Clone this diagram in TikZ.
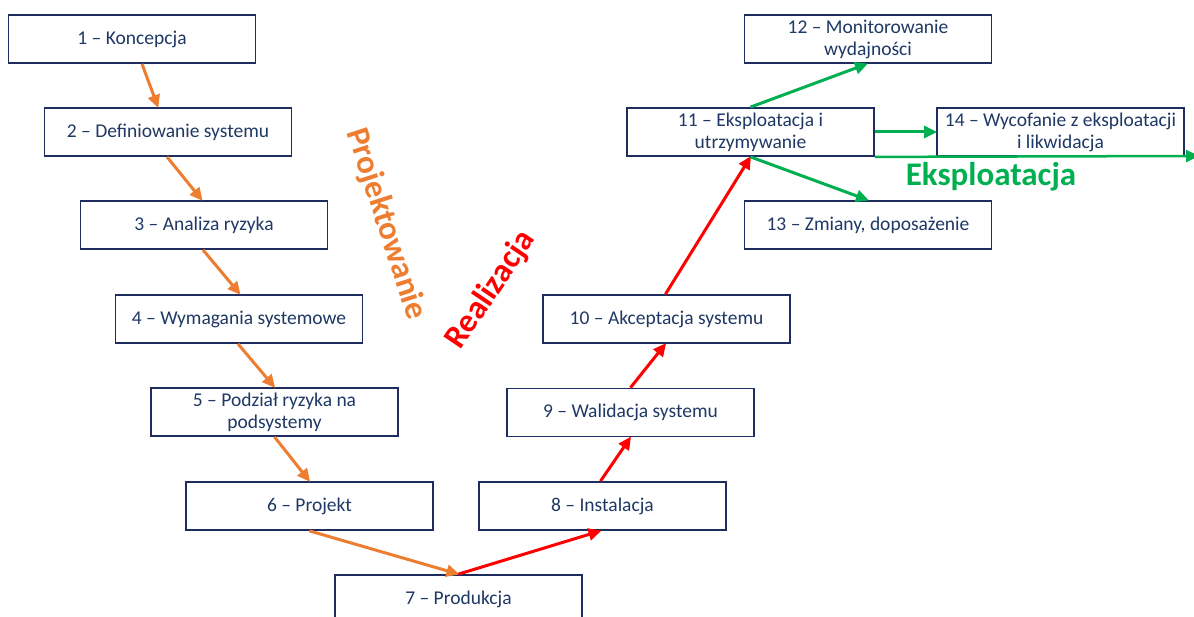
\documentclass[tikz,border=0pt]{standalone}
\usepackage{fontspec}
\setmainfont{Carlito}
\usetikzlibrary{arrows.meta}
\definecolor{navy}{HTML}{1F3864}
\definecolor{boxline}{HTML}{1F2D5E}
\definecolor{orng}{HTML}{ED7D31}
\definecolor{rd}{HTML}{FF0000}
\definecolor{grn}{HTML}{00B050}
\tikzset{
  stage/.style={draw=boxline, line width=1.8pt, fill=white, minimum width=247pt, minimum height=48pt,
    inner sep=0pt, align=center, text=navy, font=\fontsize{19.5}{22}\selectfont},
  arr/.style={line width=3pt, -{Triangle[length=13pt,width=12pt]}, shorten >=-1pt},
  oarr/.style={arr, draw=orng, fill=orng},
  rarr/.style={arr, draw=rd, fill=rd},
  garr/.style={arr, draw=grn, fill=grn},
  phase/.style={font=\bfseries\fontsize{33}{33}\selectfont, inner sep=0pt}
}
\begin{document}
\begin{tikzpicture}[x=1pt,y=-1pt]
\useasboundingbox (0,0) rectangle (1194,617);
\clip (0,0) rectangle (1194,617);
\node[stage] (n1) at (132,39) {1 – Koncepcja};
\node[stage] (n2) at (168,132) {2 – Definiowanie systemu};
\node[stage] (n3) at (204,225) {3 – Analiza ryzyka};
\node[stage] (n4) at (239,319) {4 – Wymagania systemowe};
\node[stage] (n5) at (274.5,412) {5 – Podział ryzyka na\\podsystemy};
\node[stage] (n6) at (309.5,506) {6 – Projekt};
\node[stage] (n7) at (458.5,599) {7 – Produkcja};
\node[stage] (n8) at (602.5,506) {8 – Instalacja};
\node[stage] (n9) at (630.5,412.5) {9 – Walidacja systemu};
\node[stage] (n10) at (666.5,319) {10 – Akceptacja systemu};
\node[stage] (n11) at (750.5,132) {11 – Eksploatacja i\\utrzymywanie};
\node[stage] (n12) at (868,39) {12 – Monitorowanie\\wydajności};
\node[stage] (n13) at (868,225) {13 – Zmiany, doposażenie};
\node[stage] (n14) at (1060.5,132) {14 – Wycofanie z eksploatacji\\i likwidacja};
\coordinate (eend) at (1198,156);

\draw[oarr] ([xshift=10pt]n1.south) -- ([xshift=-10pt]n2.north);
\draw[oarr] ([xshift=-1pt]n2.south) -- ([xshift=-2pt]n3.north);
\draw[oarr] ([xshift=-1pt]n3.south) -- ([xshift=1pt]n4.north);
\draw[oarr] ([xshift=-1pt]n4.south) -- (n5.north);
\draw[oarr] (n5.south) -- (n6.north);
\draw[oarr] (n6.south) -- (n7.north);
\draw[rarr] (n7.north) -- ([xshift=-2pt]n8.south);
\draw[rarr] ([xshift=-2pt]n8.north) -- (n9.south);
\draw[rarr] (n9.north) -- ([xshift=-1pt]n10.south);
\draw[rarr] ([xshift=-1pt]n10.north) -- (n11.south);
\draw[garr] (n11.north) -- ([xshift=-1pt]n12.south);
\draw[garr] (n11.south) -- (n13.north);
\draw[garr] (n11.east) -- (n14.west);
\draw[garr, line width=2.5pt] (n11.south east) -- (eend);

\node[phase, text=orng, rotate=-72] (p1) at (386,224) {Projektowanie};
\node[phase, text=rd, rotate=56] (p2) at (491,290) {Realizacja};
\node[phase, text=grn] (p3) at (991,177) {Eksploatacja};
\end{tikzpicture}
\end{document}
